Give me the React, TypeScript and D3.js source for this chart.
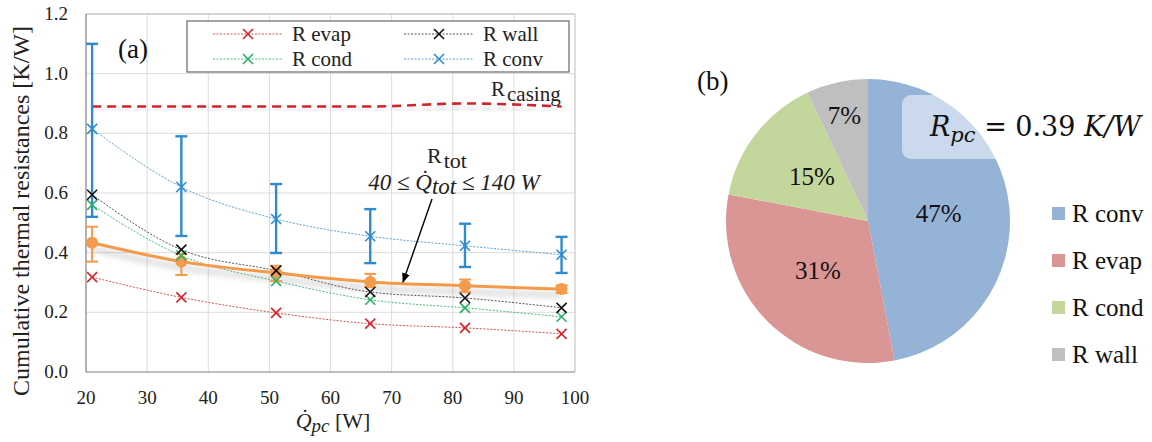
import React from "react";
import * as d3 from "d3";

// heat input per point [W]
const qpc = [21, 35.6, 51.1, 66.5, 82, 97.8];

// cumulative resistances [K/W]
const rEvap = [0.318, 0.25, 0.198, 0.162, 0.148, 0.128];
const rCond = [0.56, 0.39, 0.305, 0.242, 0.215, 0.185];
const rWall = [0.594, 0.41, 0.34, 0.268, 0.248, 0.215];
const rConv = [0.815, 0.62, 0.513, 0.455, 0.423, 0.393];
const rConvLow = [0.52, 0.456, 0.399, 0.365, 0.352, 0.332];
const rConvHigh = [1.1, 0.79, 0.63, 0.546, 0.497, 0.453];
const rTot = [0.433, 0.37, 0.332, 0.302, 0.289, 0.278];
const rTotLow = [0.37, 0.325, 0.305, 0.285, 0.268, 0.265];
const rTotHigh = [0.487, 0.395, 0.356, 0.329, 0.31, 0.29];
const rCasing = [0.89, 0.89, 0.89, 0.89, 0.9, 0.89];

const xTicks = [20, 30, 40, 50, 60, 70, 80, 90, 100];
const yTicks = [0, 0.2, 0.4, 0.6, 0.8, 1.0, 1.2];

// pie (b)
const pieLabels = ["R conv", "R evap", "R cond", "R wall"];
const pieValues = [47, 31, 15, 7];
const pieColors = ["#95b3d7", "#d99694", "#c3d69b", "#bfbfbf"];

const serif = "'Liberation Serif', 'DejaVu Serif', serif";

const x = d3.scaleLinear().domain([20, 100]).range([86, 575]);
const y = d3.scaleLinear().domain([0, 1.2]).range([372, 14]);

const lineGen = d3
  .line<number>()
  .x((_, i) => x(qpc[i]))
  .y((d) => y(d))
  .curve(d3.curveMonotoneX);

const Cross = ({ cx, cy, color, s = 5 }) => (
  <g stroke={color} strokeWidth={1.6}>
    <line x1={cx - s} y1={cy - s} x2={cx + s} y2={cy + s} />
    <line x1={cx - s} y1={cy + s} x2={cx + s} y2={cy - s} />
  </g>
);

const series = [
  { name: "R evap", vals: rEvap, color: "#d7262b", line: "#d9534f" },
  { name: "R cond", vals: rCond, color: "#2bb163", line: "#4cbf7a" },
  { name: "R wall", vals: rWall, color: "#111111", line: "#555555" },
  { name: "R conv", vals: rConv, color: "#2f8bd0", line: "#5aa3da" },
];

const ErrorBars = ({ lo, hi, color, w, cap }) => (
  <g stroke={color} strokeWidth={w}>
    {qpc.map((q, i) => (
      <g key={i}>
        <line x1={x(q)} x2={x(q)} y1={y(lo[i])} y2={y(hi[i])} />
        <line x1={x(q) - cap} x2={x(q) + cap} y1={y(lo[i])} y2={y(lo[i])} />
        <line x1={x(q) - cap} x2={x(q) + cap} y1={y(hi[i])} y2={y(hi[i])} />
      </g>
    ))}
  </g>
);

const ChartA = () => {
  const [x0, x1] = x.range();
  const [y0, y1] = y.range();
  return (
    <g fontFamily={serif}>
      <defs>
        <filter id="shade" x="-5%" y="-50%" width="110%" height="300%">
          <feDropShadow dx="0" dy="6" stdDeviation="3" floodColor="#7f7f7f" floodOpacity="0.5" />
        </filter>
        <marker id="arrow" viewBox="0 0 10 10" refX="9" refY="5" markerWidth="7" markerHeight="7" orient="auto">
          <path d="M0,1 L10,5 L0,9 z" fill="#000" />
        </marker>
      </defs>

      {/* grid */}
      {xTicks.slice(1, -1).map((t) => (
        <line key={t} x1={x(t)} x2={x(t)} y1={y1} y2={y0} stroke="#dcdcdc" strokeWidth={1} />
      ))}
      {yTicks.slice(1).map((t) => (
        <line key={t} x1={x0} x2={x1} y1={y(t)} y2={y(t)} stroke="#dcdcdc" strokeWidth={1} />
      ))}
      <line x1={x0} x2={x1} y1={y1} y2={y1} stroke="#bdbdbd" />
      <line x1={x1} x2={x1} y1={y1} y2={y0} stroke="#bdbdbd" />
      <line x1={x0} x2={x0} y1={y1} y2={y0} stroke="#7f7f7f" strokeWidth={1.2} />
      <line x1={x0} x2={x1} y1={y0} y2={y0} stroke="#7f7f7f" strokeWidth={1.2} />

      {/* ticks */}
      {xTicks.map((t) => (
        <text key={t} x={x(t)} y={404} textAnchor="middle" fontSize={19} fill="#222">
          {t}
        </text>
      ))}
      {yTicks.map((t) => (
        <text key={t} x={68} y={y(t) + 6} textAnchor="end" fontSize={19} fill="#222">
          {t.toFixed(1)}
        </text>
      ))}
      <text transform="translate(29,211) rotate(-90)" textAnchor="middle" fontSize={24} fill="#222">
        Cumulative thermal resistances [K/W]
      </text>
      <text x={333} y={428} textAnchor="middle" fontSize={22} fill="#222">
        <tspan fontStyle="italic">Q̇</tspan>
        <tspan fontStyle="italic" fontSize={19} dy={4}>pc</tspan>
        <tspan dy={-4}> [W]</tspan>
      </text>

      {/* R casing */}
      <path
        d={lineGen(rCasing) ?? ""}
        fill="none"
        stroke="#d2232a"
        strokeWidth={2.6}
        strokeDasharray="9,6"
        filter="url(#shade)"
      />
      <text x={491} y={96} fontSize={21} fill="#222">
        R<tspan dx={2} dy={5}>casing</tspan>
      </text>

      {/* dotted series */}
      {series.map((s) => (
        <path
          key={s.name}
          d={lineGen(s.vals) ?? ""}
          fill="none"
          stroke={s.line}
          strokeWidth={1}
          strokeDasharray="2,1.5"
        />
      ))}

      <ErrorBars lo={rConvLow} hi={rConvHigh} color="#2f8bd0" w={2.4} cap={6} />

      {/* R tot */}
      <path
        d={lineGen(rTot) ?? ""}
        fill="none"
        stroke="#f39a4c"
        strokeWidth={3}
        filter="url(#shade)"
      />
      <ErrorBars lo={rTotLow} hi={rTotHigh} color="#f39a4c" w={2} cap={6} />
      {qpc.map((q, i) => (
        <circle key={i} cx={x(q)} cy={y(rTot[i])} r={6} fill="#f39a4c" />
      ))}

      {series.map((s) =>
        s.vals.map((v, i) => <Cross key={s.name + i} cx={x(qpc[i])} cy={y(v)} color={s.color} />)
      )}

      {/* annotation */}
      <text x={447} y={163} textAnchor="middle" fontSize={22} fill="#222">
        R<tspan dx={2} dy={5}>tot</tspan>
      </text>
      <text x={454} y={190} textAnchor="middle" fontSize={23} fontStyle="italic" fill="#222">
        40 ≤ Q̇<tspan dy={4}>tot</tspan>
        <tspan dy={-4}> ≤ 140 W</tspan>
      </text>
      <line x1={432} y1={199} x2={403} y2={282} stroke="#000" strokeWidth={1.4} markerEnd="url(#arrow)" />

      {/* legend */}
      <rect x={187} y={21} width={382} height={51} fill="#fff" stroke="#666" strokeWidth={1.2} />
      {series.map((s, i) => {
        const lx = i < 2 ? 213 : 404;
        const ly = i % 2 === 0 ? 34 : 59;
        return (
          <g key={s.name}>
            <line x1={lx} x2={lx + 69} y1={ly} y2={ly} stroke={s.line} strokeWidth={1} strokeDasharray="2,1.5" />
            <Cross cx={lx + 35} cy={ly} color={s.color} />
            <text x={lx + 79} y={ly + 7} fontSize={21} fill="#222">
              {s.name}
            </text>
          </g>
        );
      })}

      <text x={118} y={58} fontSize={27} fill="#111">
        (a)
      </text>
    </g>
  );
};

const ChartB = () => {
  const cx = 868;
  const cy = 221;
  const r = 142;
  const arcs = d3
    .pie<number>()
    .sort(null)
    .value((d) => d)(pieValues);
  const arc = d3.arc<d3.PieArcDatum<number>>().innerRadius(0).outerRadius(r);
  return (
    <g fontFamily={serif}>
      <text x={697} y={90} fontSize={27} fill="#111">
        (b)
      </text>
      <g transform={`translate(${cx},${cy})`}>
        {arcs.map((a, i) => (
          <path key={i} d={arc(a) ?? ""} fill={pieColors[i]} />
        ))}
        {arcs.map((a, i) => {
          const lr = pieValues[i] < 10 ? r * 0.76 : r * 0.5;
          const [lx, ly] = d3.arc<d3.PieArcDatum<number>>().innerRadius(lr).outerRadius(lr).centroid(a);
          return (
            <text key={i} x={lx} y={ly + 8} textAnchor="middle" fontSize={25} fill="#111">
              {pieValues[i]}%
            </text>
          );
        })}
      </g>
      <rect x={902} y={95} width={248} height={64} rx={9} fill="#fff" fillOpacity={0.5} />
      <text x={930} y={136} fontSize={27} fill="#111" fontFamily="'DejaVu Serif', serif">
        <tspan fontStyle="italic">R</tspan>
        <tspan fontStyle="italic" fontSize={21} dy={6}>pc</tspan>
        <tspan dy={-6}> = 0.39 </tspan>
        <tspan fontStyle="italic">K/W</tspan>
      </text>
      {pieLabels.map((l, i) => (
        <g key={l}>
          <rect x={1052} y={207 + i * 47} width={13} height={13} fill={pieColors[i]} />
          <text x={1072} y={222 + i * 47} fontSize={25} fill="#111">
            {l}
          </text>
        </g>
      ))}
    </g>
  );
};

export default function App() {
  return (
    <svg
      width={1152}
      height={442}
      style={{ position: "absolute", left: 0, top: 0, background: "#fff" }}
    >
      <ChartA />
      <ChartB />
    </svg>
  );
}
